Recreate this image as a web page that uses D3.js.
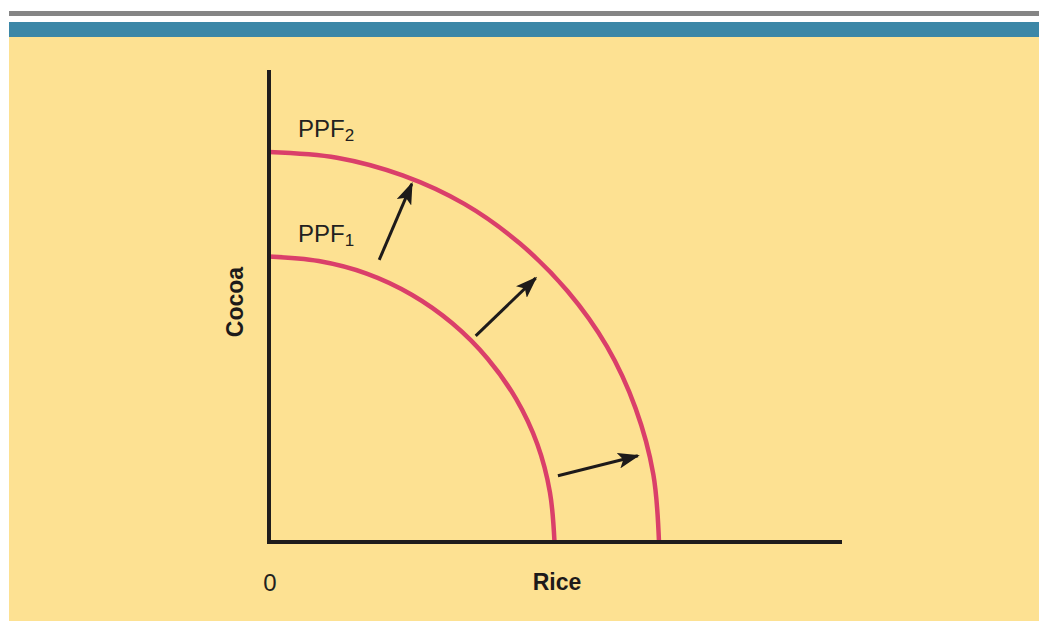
<!DOCTYPE html>
<html>
<head>
<meta charset="utf-8">
<script src="https://cdn.jsdelivr.net/npm/d3@7"></script>
<style>
  body { margin: 0; background: #fff; }
  svg { display: block; }
</style>
</head>
<body>
<div id="chart"></div>
<script>
// curves (rice, cocoa) in chart units
const ppf1 = [[50, 0], [49.2, 8.7], [47.0, 17.1], [43.3, 25.0], [38.3, 32.1], [32.1, 38.3],
              [25.0, 43.3], [17.1, 47.0], [8.7, 49.2], [0, 50]]
const ppf2 = [[68.3, 0], [67.3, 11.9], [64.2, 23.4], [59.2, 34.2], [52.3, 43.9], [43.9, 52.3],
              [34.2, 59.2], [23.4, 64.2], [11.9, 67.3], [0, 68.3]]
// shift arrows: [tailX, tailY, tipX, tipY]
const arrows = [[19.3, 49.4, 25.0, 62.7], [36.2, 36.1, 46.7, 46.2], [50.6, 11.6, 64.6, 15.1]]
const xDomain = [0, 100]
const yDomain = [0, 82.3]

const width = 1039
const height = 621
const svg = d3.select("#chart")
  .append("svg")
    .attr("width", width)
    .attr("height", height)

// frame: gray rule, blue band, yellow panel
svg.append("rect").attr("x", 9).attr("y", 11).attr("width", width - 9).attr("height", 5).attr("fill", "#858585")
svg.append("rect").attr("x", 9).attr("y", 22).attr("width", width - 9).attr("height", 15).attr("fill", "#3c87a7")
svg.append("rect").attr("x", 9).attr("y", 37).attr("width", width - 9).attr("height", height - 37).attr("fill", "#fde192")

const x = d3.scaleLinear().domain(xDomain).range([269, 840])
const y = d3.scaleLinear().domain(yDomain).range([542, 72])

svg.append("defs").append("marker")
    .attr("id", "head")
    .attr("viewBox", "0 0 22 16")
    .attr("refX", 20)
    .attr("refY", 8)
    .attr("markerUnits", "userSpaceOnUse")
    .attr("markerWidth", 22)
    .attr("markerHeight", 16)
    .attr("orient", "auto")
  .append("path")
    .attr("d", "M0,0 L22,8 L0,16 L5,8 Z")
    .attr("fill", "#1d1a1a")

const line = d3.line()
  .x(d => x(d[0]))
  .y(d => y(d[1]))
  .curve(d3.curveCatmullRom.alpha(0.5))

svg.selectAll(".ppf")
  .data([ppf1, ppf2])
  .join("path")
    .attr("class", "ppf")
    .attr("d", line)
    .attr("fill", "none")
    .attr("stroke", "#da3f6a")
    .attr("stroke-width", 4.5)

svg.selectAll(".arrow")
  .data(arrows)
  .join("line")
    .attr("class", "arrow")
    .attr("x1", d => x(d[0]))
    .attr("y1", d => y(d[1]))
    .attr("x2", d => x(d[2]))
    .attr("y2", d => y(d[3]))
    .attr("stroke", "#1d1a1a")
    .attr("stroke-width", 3)
    .attr("marker-end", "url(#head)")

// axes, no ticks
svg.append("path")
  .attr("d", `M${x(0)},${y(yDomain[1])} L${x(0)},${y(0)} L${x(xDomain[1])},${y(0)}`)
  .attr("fill", "none")
  .attr("stroke", "#1f1c1c")
  .attr("stroke-width", 4)
  .attr("stroke-linecap", "square")

const font = "'Liberation Sans', Arial, sans-serif"

const labels = [["PPF", "2", 298, 137], ["PPF", "1", 298, 242]]
labels.forEach(l => {
  const t = svg.append("text")
    .attr("x", l[2]).attr("y", l[3])
    .attr("font-family", font).attr("font-size", 24)
    .attr("fill", "#231f20")
  t.append("tspan").text(l[0])
  t.append("tspan").attr("dy", 4).attr("font-size", 17).text(l[1])
})

svg.append("text")
  .attr("x", 270).attr("y", 591)
  .attr("text-anchor", "middle")
  .attr("font-family", font).attr("font-size", 24)
  .attr("fill", "#231f20")
  .text("0")

svg.append("text")
  .attr("x", 557).attr("y", 590)
  .attr("text-anchor", "middle")
  .attr("font-family", font).attr("font-size", 23).attr("font-weight", "bold")
  .attr("fill", "#1d1a1a")
  .text("Rice")

svg.append("text")
  .attr("transform", "translate(243,302) rotate(-90)")
  .attr("text-anchor", "middle")
  .attr("font-family", font).attr("font-size", 23).attr("font-weight", "bold")
  .attr("fill", "#1d1a1a")
  .text("Cocoa")
</script>
</body>
</html>
